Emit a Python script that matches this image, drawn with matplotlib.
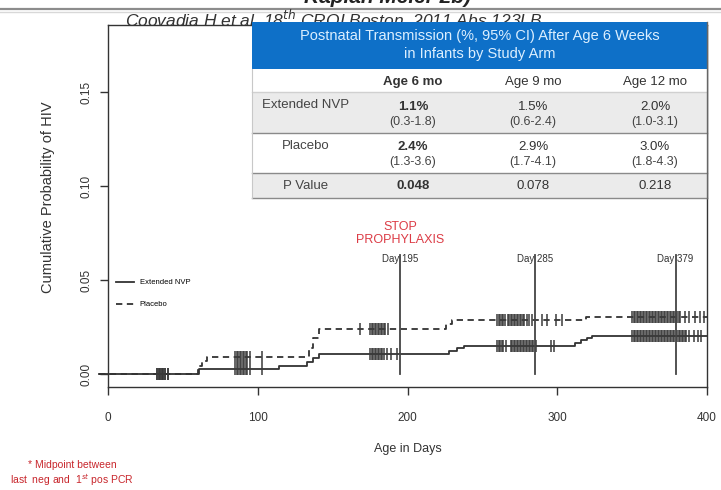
import matplotlib
matplotlib.use("Agg")
import matplotlib.pyplot as plt
import numpy as np
from matplotlib.patches import Rectangle

plt.rcParams['font.family'] = ['Liberation Sans', 'DejaVu Sans']

# Kaplan-Meier step curves (day, cumulative probability after that day)
ext_days = [-6, 61, 114, 133, 137, 141, 228, 233, 238, 312, 316, 320, 323, 400]
ext_prob = [0.0, 0.0027, 0.0043, 0.0065, 0.0085, 0.0108, 0.0125, 0.0140, 0.0150,
            0.0165, 0.0180, 0.0190, 0.0202, 0.0202]
plc_days = [-6, 60, 63, 66, 134, 137, 141, 226, 230, 319, 400]
plc_prob = [0.0, 0.0045, 0.0070, 0.0092, 0.0140, 0.0190, 0.0240, 0.0265, 0.0288,
            0.0303, 0.0303]

# censored observations
ext_censor = [33, 34, 35, 36, 37, 38, 40,
              85, 86, 87, 88, 89, 90, 91, 92, 93, 95, 103,
              175, 176, 177, 178, 179, 180, 181, 182, 183, 184, 186, 189, 193,
              260, 261, 262, 263, 264, 266, 269, 270, 271, 272, 273, 274, 275, 276,
              277, 278, 279, 280, 281, 282, 283, 284, 286, 296, 298,
              350, 351, 352, 353, 354, 355, 356, 357, 358, 359, 360, 361, 362, 363,
              364, 365, 366, 367, 368, 369, 370, 371, 372, 373, 374, 375, 376, 377,
              378, 380, 381, 382, 383, 384, 385, 386, 388, 391, 394, 396]
plc_censor = [33, 34, 35, 36, 37, 38, 40,
              85, 86, 87, 88, 89, 90, 91, 92, 93, 95, 103,
              168, 175, 176, 177, 178, 179, 180, 181, 182, 183, 184, 185, 187,
              260, 261, 262, 263, 264, 265, 267, 268, 269, 270, 271, 272, 273, 274,
              275, 276, 277, 278, 280, 281, 283, 290, 293, 299, 303,
              350, 351, 352, 353, 354, 355, 356, 357, 358, 359, 360, 361, 362, 363,
              364, 365, 366, 367, 368, 369, 370, 371, 372, 373, 374, 375, 376, 377,
              378, 379, 380, 381, 382, 385, 388, 392, 395, 398]

# landmark days
mark_days = [195, 285, 379]
mark_labels = ["Day 195", "Day 285", "Day 379"]

# summary table
table_title = "Postnatal Transmission (%, 95% CI) After Age 6 Weeks\nin Infants by Study Arm"
col_labels = ["Age 6 mo", "Age 9 mo", "Age 12 mo"]
row_labels = ["Extended NVP", "Placebo", "P Value"]
ext_pct = ["1.1%", "1.5%", "2.0%"]
ext_ci = ["(0.3-1.8)", "(0.6-2.4)", "(1.0-3.1)"]
plc_pct = ["2.4%", "2.9%", "3.0%"]
plc_ci = ["(1.3-3.6)", "(1.7-4.1)", "(1.8-4.3)"]
p_values = ["0.048", "0.078", "0.218"]

W, H = 721, 490
fig = plt.figure(figsize=(W / 100, H / 100), dpi=100)
fig.patch.set_facecolor('white')

ax = fig.add_axes([108 / W, 1 - 387 / H, (707 - 108) / W, (387 - 25) / H])
ax.set_xlim(0, 400)
ax.set_ylim(-0.0069, 0.1857)

ink = '#333333'


def level_at(days, probs, t):
    i = np.searchsorted(days, t, side='right') - 1
    return np.asarray(probs)[i]


ax.step(ext_days, ext_prob, where='post', color=ink, lw=1.3, clip_on=False,
        label='Extended NVP')
ax.step(plc_days, plc_prob, where='post', color=ink, lw=1.3, dashes=(3.5, 2.5),
        clip_on=False, label='Placebo')
ax.plot(ext_censor, level_at(ext_days, ext_prob, ext_censor), ls='none',
        marker='|', ms=8, mew=1.1, color='#3a3a3a')
ax.plot(plc_censor, level_at(plc_days, plc_prob, plc_censor), ls='none',
        marker='|', ms=8, mew=1.1, color='#3a3a3a')

for d, lab in zip(mark_days, mark_labels):
    ax.plot([d, d], [0, 0.0633], color='#444444', lw=1.3)
    ax.text(d, 0.0612, lab, ha='center', va='center', fontsize=7, color=ink)

ax.text(195, 0.0747, "STOP\nPROPHYLAXIS", ha='center', va='center', fontsize=9,
        color='#dc3c46', linespacing=1.15)

for s in ax.spines.values():
    s.set_color(ink)
    s.set_linewidth(1.0)

ax.set_xticks([0, 100, 200, 300, 400])
ax.set_yticks([0.0, 0.05, 0.10, 0.15])
ax.set_yticklabels(["0.00", "0.05", "0.10", "0.15"], rotation=90, va='center')
ax.tick_params(axis='both', direction='out', length=6, width=1.0, color=ink,
               labelcolor=ink, labelsize=8.5)
ax.tick_params(axis='x', pad=12)
ax.tick_params(axis='y', pad=5)

ax.set_xlabel("Age in Days", fontsize=9, color=ink)
ax.xaxis.label.set_va('center')
ax.xaxis.set_label_coords((408 - 108) / 599, (387 - 449) / 362)
ax.set_ylabel("Cumulative Probability of HIV", fontsize=10.5, color=ink)
ax.yaxis.label.set_va('center')
ax.yaxis.set_label_coords((48 - 108) / 599, (387 - 197) / 362)

ax.legend(loc='upper left', bbox_to_anchor=(116 / W, 1 - 279 / H),
          bbox_transform=fig.transFigure, frameon=False, fontsize=5.5,
          handlelength=2.4, handletextpad=0.7, labelspacing=1.9,
          borderpad=0, borderaxespad=0)

# overlay in pixel coordinates for the slide decorations and table
ov = fig.add_axes([0, 0, 1, 1], zorder=5)
ov.set_xlim(0, W)
ov.set_ylim(H, 0)
ov.axis('off')

ov.text(387, 3, "Kaplan Meier 2b)", ha='center', va='baseline', fontsize=15,
        fontweight='bold', style='italic', color='#222222', zorder=1)
ov.plot([0, W], [9, 9], color='#8c8c8c', lw=1.6, zorder=1)
ov.plot([0, W], [12, 12], color='#d8d8d8', lw=1.0, zorder=1)
ov.text(125, 27, "Coovadia H et al. 18$^{th}$ CROI Boston, 2011 Abs 123LB",
        ha='left', va='baseline', fontsize=12.5, style='italic', color='#333333',
        zorder=1)

tx0, tx1 = 252, 707
ov.add_patch(Rectangle((tx0, 22), tx1 - tx0, 47, facecolor='#0e70c8',
                       edgecolor='none', zorder=2))
ov.text((tx0 + tx1) / 2, 45, table_title, ha='center', va='center', fontsize=10.5,
        color='#dcefff', linespacing=1.35, zorder=3)

row_edges = [69, 92, 133, 173, 198]
row_fill = ['white', '#ebebeb', 'white', '#ebebeb']
for (y0, y1), fc in zip(zip(row_edges[:-1], row_edges[1:]), row_fill):
    ov.add_patch(Rectangle((tx0, y0), tx1 - tx0, y1 - y0, facecolor=fc,
                           edgecolor='none', zorder=2))
for y, c in zip(row_edges[1:], ['#d0d0d0', '#8a8a8a', '#8a8a8a', '#8a8a8a']):
    ov.plot([tx0, tx1], [y, y], color=c, lw=1.0, zorder=3)
ov.plot([tx1, tx1], [22, 198], color='#666666', lw=1.0, zorder=3)
ov.plot([tx0, tx0], [69, 198], color='#c8c8c8', lw=0.8, zorder=3)

col_x = [413, 533, 655]
label_x = 306
for i, (cx, lab) in enumerate(zip(col_x, col_labels)):
    ov.text(cx, 82, lab, ha='center', va='center', fontsize=9.5,
            fontweight='bold' if i == 0 else 'normal', color='#333333', zorder=4)

ov.text(label_x, 105, row_labels[0], ha='center', va='center', fontsize=9.5,
        color='#444444', zorder=4)
ov.text(label_x, 146, row_labels[1], ha='center', va='center', fontsize=9.5,
        color='#444444', zorder=4)
ov.text(label_x, 186, row_labels[2], ha='center', va='center', fontsize=9.5,
        color='#444444', zorder=4)

for i, cx in enumerate(col_x):
    w = 'bold' if i == 0 else 'normal'
    ov.text(cx, 107, ext_pct[i], ha='center', va='center', fontsize=9.5,
            fontweight=w, color='#333333', zorder=4)
    ov.text(cx, 122, ext_ci[i], ha='center', va='center', fontsize=9,
            color='#444444', zorder=4)
    ov.text(cx, 147, plc_pct[i], ha='center', va='center', fontsize=9.5,
            fontweight=w, color='#333333', zorder=4)
    ov.text(cx, 162, plc_ci[i], ha='center', va='center', fontsize=9,
            color='#444444', zorder=4)
    ov.text(cx, 186, p_values[i], ha='center', va='center', fontsize=9.5,
            fontweight=w, color='#333333', zorder=4)

ov.text(72, 465, "* Midpoint between", ha='center', va='center', fontsize=7.5,
        color='#c8262c')
ov.text(72, 480, "last  neg and  1$^{st}$ pos PCR", ha='center', va='center',
        fontsize=7.5, color='#c8262c')

fig.savefig("out.png", dpi=100)
